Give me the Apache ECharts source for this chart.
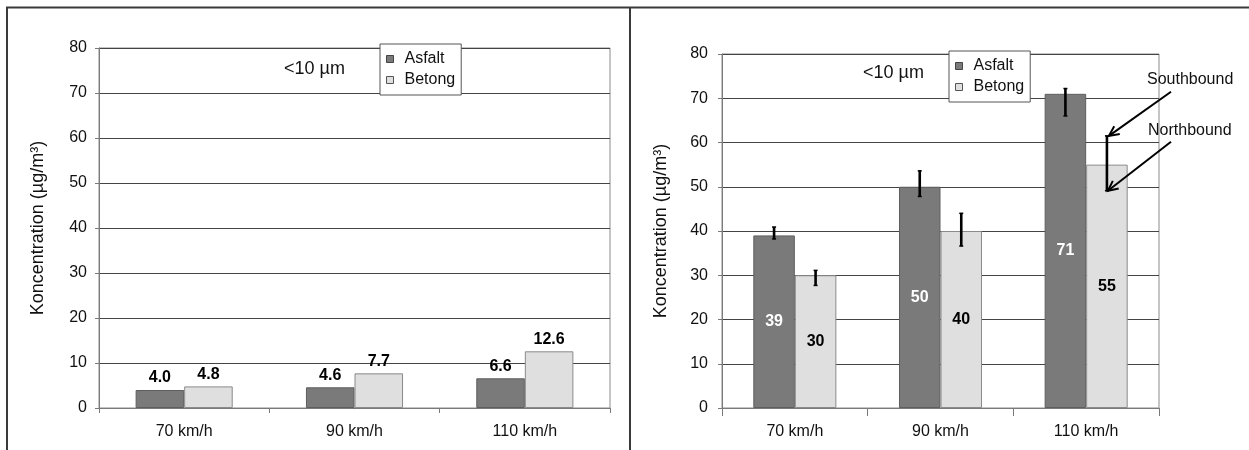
<!DOCTYPE html>
<html>
<head>
<meta charset="utf-8">
<script src="https://cdn.jsdelivr.net/npm/echarts/dist/echarts.min.js"></script>
<style>
  html, body { margin: 0; padding: 0; background: #fff; }
  #c { width: 1249px; height: 450px; }
</style>
</head>
<body>
<div id="c"></div>
<script>
// Speed classes on the x axis
const speeds = ['70 km/h', '90 km/h', '110 km/h'];
// Y axis scale (µg/m³)
const yMin = 0, yMax = 80, yStep = 10;

// Left panel: measured concentration per surface
const leftAsfalt = [4.0, 4.6, 6.6];
const leftBetong = [4.8, 7.7, 12.6];

// Right panel: measured concentration per surface
const rightAsfalt = [39, 50, 71];
const rightBetong = [30, 40, 55];

// Right panel: spread between the two driving directions
const asfaltLow  = [38.2, 47.8, 66.0];
const asfaltHigh = [40.9, 53.6, 72.2];
const betongLow  = [27.7, 36.6, 49.1];
const betongHigh = [31.1, 44.0, 61.5];

const FONT = '"Liberation Sans", Arial, Helvetica, sans-serif';
const ASF = '#7a7a7a', ASF_EDGE = '#5e5e5e';
const BET = '#dedfde', BET_EDGE = '#8a8a8a';
const GAP = 0.43;

const chart = echarts.init(document.getElementById('c'), null, { renderer: 'canvas' });

function yAxis(gridIndex, margin, nameGap) {
  return {
    type: 'value', gridIndex, min: yMin, max: yMax, interval: yStep,
    name: 'Koncentration (µg/m³)', nameLocation: 'middle', nameGap,
    nameTextStyle: { fontFamily: FONT, fontSize: 18, color: '#111' },
    axisLine: { show: true, lineStyle: { color: '#7a7a7a', width: 1 } },
    axisTick: { show: true, length: 4, lineStyle: { color: '#7a7a7a' } },
    axisLabel: { fontFamily: FONT, fontSize: 16, color: '#111', margin },
    splitLine: { show: true, lineStyle: { color: '#444', width: 1 } }
  };
}
function xAxis(gridIndex, tickLen) {
  return {
    type: 'category', gridIndex, data: speeds,
    axisLine: { show: true, lineStyle: { color: '#7a7a7a', width: 1 } },
    axisTick: { show: true, length: tickLen, alignWithLabel: false, lineStyle: { color: '#7a7a7a' } },
    axisLabel: { fontFamily: FONT, fontSize: 16, color: '#111', margin: 16 }
  };
}

const barLabel = (color, pos, dist) => ({
  show: true, position: pos, distance: dist,
  fontFamily: FONT, fontSize: 16, fontWeight: 'bold', color
});

// Vertical spread markers drawn over the right panel bars
function errorItem(params, api) {
  const cat = api.value(0), lo = api.value(1), hi = api.value(2), side = api.value(3);
  const pLo = api.coord([cat, lo]);
  const pHi = api.coord([cat, hi]);
  const bw = api.size([1, 0])[0] * (1 - GAP) / 2;
  const x = pLo[0] + side * bw / 2;
  const st = { stroke: '#000', lineWidth: 2.6 };
  return {
    type: 'group',
    children: [
      { type: 'line', shape: { x1: x, y1: pLo[1], x2: x, y2: pHi[1] }, style: st },
      { type: 'line', shape: { x1: x - 2, y1: pLo[1], x2: x + 2, y2: pLo[1] }, style: { stroke: '#000', lineWidth: 1.5 } },
      { type: 'line', shape: { x1: x - 2, y1: pHi[1], x2: x + 2, y2: pHi[1] }, style: { stroke: '#000', lineWidth: 1.5 } }
    ]
  };
}
const errData = [];
for (let i = 0; i < speeds.length; i++) {
  errData.push([i, asfaltLow[i], asfaltHigh[i], -1]);
  errData.push([i, betongLow[i], betongHigh[i], 1]);
}

function legend(left, top) {
  return {
    orient: 'vertical', left, top,
    data: [
      { name: 'Asfalt', itemStyle: { color: ASF, borderColor: '#444', borderWidth: 1 } },
      { name: 'Betong', itemStyle: { color: BET, borderColor: '#555', borderWidth: 1 } }
    ],
    icon: 'rect', itemWidth: 7, itemHeight: 7, itemGap: 5,
    padding: [7, 6, 7, 6],
    backgroundColor: '#fff', borderColor: '#555', borderWidth: 1,
    textStyle: { fontFamily: FONT, fontSize: 16, color: '#111', lineHeight: 16, padding: [0, 0, 0, 6] },
    selectedMode: false
  };
}

const option = {
  animation: false,
  backgroundColor: '#fff',
  grid: [
    { left: 99, right: 639, top: 48, bottom: 42, show: true, borderColor: '#8a8a8a', borderWidth: 1, backgroundColor: '#fff' },
    { left: 722, right: 90, top: 54, bottom: 42, show: true, borderColor: '#8a8a8a', borderWidth: 1, backgroundColor: '#fff' }
  ],
  xAxis: [xAxis(0, 5), xAxis(1, 8)],
  yAxis: [yAxis(0, 12, 52), yAxis(1, 14, 52)],
  legend: [legend(380, 44), legend(949, 51)],
  series: [
    { name: 'Asfalt', type: 'bar', xAxisIndex: 0, yAxisIndex: 0, data: leftAsfalt,
      barGap: '0%', barCategoryGap: (GAP * 100) + '%',
      itemStyle: { color: ASF, borderColor: ASF_EDGE, borderWidth: 1 },
      label: Object.assign(barLabel('#000', 'top', 4), { formatter: p => p.value.toFixed(1) }) },
    { name: 'Betong', type: 'bar', xAxisIndex: 0, yAxisIndex: 0, data: leftBetong,
      barGap: '0%', barCategoryGap: (GAP * 100) + '%',
      itemStyle: { color: BET, borderColor: BET_EDGE, borderWidth: 1 },
      label: Object.assign(barLabel('#000', 'top', 4), { formatter: p => p.value.toFixed(1) }) },
    { name: 'Asfalt', type: 'bar', xAxisIndex: 1, yAxisIndex: 1, data: rightAsfalt,
      barGap: '0%', barCategoryGap: (GAP * 100) + '%',
      itemStyle: { color: ASF, borderColor: ASF_EDGE, borderWidth: 1 },
      label: barLabel('#fff', 'inside', 0) },
    { name: 'Betong', type: 'bar', xAxisIndex: 1, yAxisIndex: 1, data: rightBetong,
      barGap: '0%', barCategoryGap: (GAP * 100) + '%',
      itemStyle: { color: BET, borderColor: BET_EDGE, borderWidth: 1 },
      label: barLabel('#000', 'inside', 0) },
    { name: 'spread', type: 'custom', xAxisIndex: 1, yAxisIndex: 1, z: 5,
      renderItem: errorItem, data: errData, silent: true }
  ]
};
chart.setOption(option);

// Annotations: size label, direction arrows and panel frame
function arrow(tail, tip) {
  const ang = Math.atan2(tip[1] - tail[1], tip[0] - tail[0]);
  const L = 11, spread = 0.45;
  const a1 = [tip[0] - L * Math.cos(ang - spread), tip[1] - L * Math.sin(ang - spread)];
  const a2 = [tip[0] - L * Math.cos(ang + spread), tip[1] - L * Math.sin(ang + spread)];
  return [
    { type: 'line', shape: { x1: tail[0], y1: tail[1], x2: tip[0], y2: tip[1] }, style: { stroke: '#000', lineWidth: 2 }, z: 20 },
    { type: 'polyline', shape: { points: [a1, tip, a2] }, style: { stroke: '#000', lineWidth: 2, fill: null }, z: 20 }
  ];
}
const catA = chart.convertToPixel({ xAxisIndex: 1, yAxisIndex: 1 }, [0, 0]);
const catB = chart.convertToPixel({ xAxisIndex: 1, yAxisIndex: 1 }, [1, 0]);
const bw = (catB[0] - catA[0]) * (1 - GAP) / 2;
const southTip = chart.convertToPixel({ xAxisIndex: 1, yAxisIndex: 1 }, [2, betongHigh[2]]);
const northTip = chart.convertToPixel({ xAxisIndex: 1, yAxisIndex: 1 }, [2, betongLow[2]]);
southTip[0] += bw / 2 + 2;
northTip[0] += bw / 2 + 1;

const frame = { stroke: '#3a3a3a', lineWidth: 2 };
chart.setOption({
  graphic: [
    { type: 'line', shape: { x1: 6, y1: 7.5, x2: 1249, y2: 7.5 }, style: frame, z: 30 },
    { type: 'line', shape: { x1: 7, y1: 7, x2: 7, y2: 450 }, style: frame, z: 30 },
    { type: 'line', shape: { x1: 630, y1: 7, x2: 630, y2: 450 }, style: frame, z: 30 },
    { type: 'text', left: 284, top: 60, style: { text: '<10 µm', font: '18px ' + FONT, fill: '#111' }, z: 20 },
    { type: 'text', left: 863, top: 64, style: { text: '<10 µm', font: '18px ' + FONT, fill: '#111' }, z: 20 },
    { type: 'text', left: 1147, top: 72, style: { text: 'Southbound', font: '16px ' + FONT, fill: '#111' }, z: 20 },
    { type: 'text', left: 1148, top: 123, style: { text: 'Northbound', font: '16px ' + FONT, fill: '#111' }, z: 20 },
    ...arrow([1171, 91.7], southTip),
    ...arrow([1171, 141.7], northTip)
  ]
});
</script>
</body>
</html>
